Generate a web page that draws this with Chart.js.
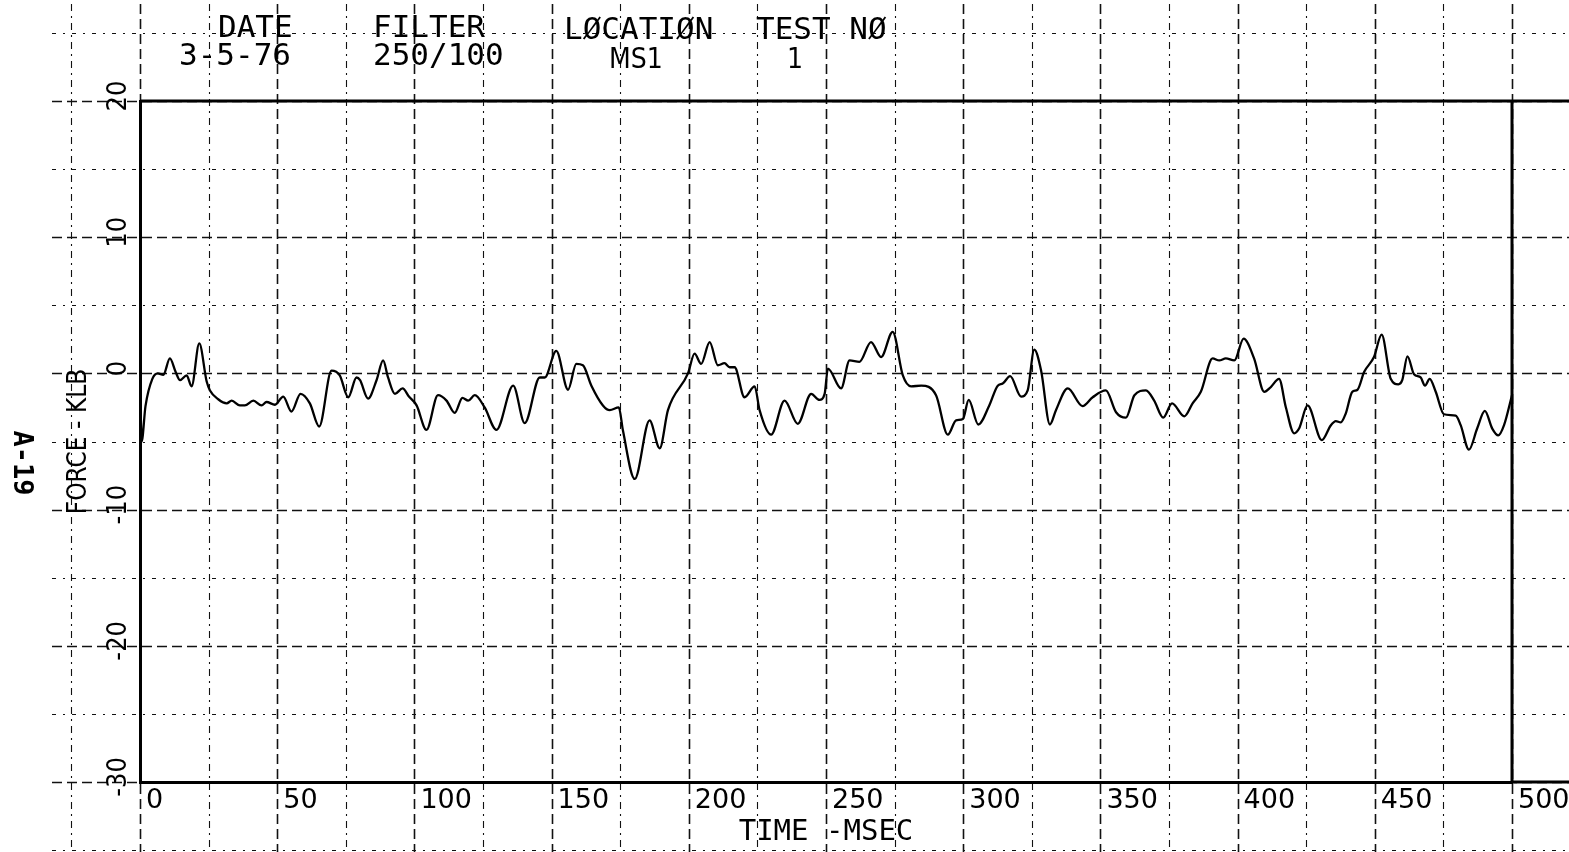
<!DOCTYPE html>
<html>
<head>
<meta charset="utf-8">
<title>Force - MS1 - Test 1</title>
<script src="https://cdn.jsdelivr.net/npm/chart.js@4.4.1/dist/chart.umd.min.js"></script>
<style>
  html, body { margin: 0; padding: 0; background: #fff; }
  #wrap { width: 1569px; height: 852px; position: relative; }
</style>
</head>
<body>
<div id="wrap"><canvas id="chart"></canvas></div>
<script>
  // time axis (msec) and measured force (KLB)
  var timeMs = [
    0, 0.6, 2, 4.5, 6.5, 8.5, 10.9, 13, 14.6, 17, 18.8, 21.6, 24.3, 25.5, 28.5,
    31.6, 33.4, 36.4, 38.2, 41.3, 44.3, 46.1, 49.2, 52.2, 55.2, 58.5, 61.9, 65.3,
    69.8, 72.8, 75.9, 78.9, 80.2, 83.1, 86.2, 88.6, 90.4, 92.9, 95.7, 98, 100.8,
    104.4, 108.6, 111.7, 114.7, 117.5, 119.6, 122, 125.6, 129.9, 136, 140.2,
    145.7, 147.5, 151.7, 156, 159, 161.4, 164.5, 168.7, 171.2, 174.5, 176, 180.3,
    185.7, 189.4, 192.4, 199.7, 202.1, 204.5, 207.6, 210.6, 213, 214.9, 216.7,
    220.3, 224, 225.8, 230, 234.9, 239.7, 244.6, 247.6, 249.5, 250.7, 255.5,
    258.6, 262.2, 266.4, 270.1, 274.3, 278, 281, 284.7, 290.1, 294.4, 297.4,
    299.9, 302, 305.5, 309.5, 312.6, 314.4, 317.1, 321.1, 323.5, 325.9, 328.4,
    331.6, 333.8, 338.1, 343.5, 347.2, 352, 355.7, 359.3, 362.4, 366.6, 369.6,
    372.9, 376.1, 380.6, 383.6, 386.6, 390.9, 393.3, 395.7, 398.8, 402.2, 406,
    409.7, 412.1, 415.1, 417.6, 420.6, 422.4, 425.5, 430.7, 434, 435.8, 437.6,
    439.4, 441.8, 443.7, 446.1, 449.7, 452.5, 455.8, 458.6, 460, 461.9, 464.3,
    466.7, 468.3, 470, 472.2, 475.2, 479.5, 481.3, 484.3, 487.3, 490.1, 492.8,
    495, 497.1, 500
  ];
  var forceKlb = [
    -0.2, -5.0, -2.4, -0.4, 0, -0.1, 1.1, 0.1, -0.5, -0.15, -0.95, 2.2, -0.6, -1.25, -1.9,
    -2.2, -2.0, -2.35, -2.35, -2.0, -2.35, -2.1, -2.3, -1.7, -2.8, -1.5, -2.2, -3.9,
    0.2, -0.15, -1.75, -0.3, -0.5, -1.85, -0.5, 0.95, -0.3, -1.5, -1.1, -1.7, -2.35,
    -4.15, -1.6, -2.0, -2.9, -1.8, -2.0, -1.6, -2.5, -4.15, -0.9, -3.65,
    -0.3, -0.3, 1.65, -1.2, 0.7, 0.6, -0.9, -2.35, -2.7, -2.5, -4.2, -7.75,
    -3.45, -5.5, -2.7, 0, 1.45, 0.7, 2.3, 0.6, 0.75, 0.45, 0.45,
    -1.75, -0.95, -2.7, -4.5, -2.0, -3.7, -1.5, -1.95, -1.5, 0.35, -1.1,
    0.95, 0.85, 2.3, 1.2, 3.05, -0.15, -0.95, -0.9, -1.6, -4.5, -3.45,
    -3.35, -1.95, -3.75, -2.35, -0.9, -0.75, -0.2, -1.7, -1.25, 1.75, 0.2,
    -3.75, -2.7, -1.1, -2.4, -1.75, -1.25, -2.85, -3.25, -1.6, -1.25, -2.0,
    -3.25, -2.2, -3.15, -2.2, -1.35, 1.1, 0.95, 1.1, 0.95, 2.55, 1.1,
    -1.35, -1.0, -0.4, -2.5, -4.4, -4.05, -2.35, -4.9, -3.8, -3.5, -3.6,
    -2.95, -1.35, -1.2, 0.1, 1.2, 2.85, -0.4, -0.8, -0.5, 1.25, -0.07,
    -0.3, -0.9, -0.4, -1.35, -3.0, -3.1, -3.8, -5.6, -4.05, -2.75, -4.05,
    -4.55, -3.8, -1.6
  ];
  var timeTicks = [0, 50, 100, 150, 200, 250, 300, 350, 400, 450, 500];
  var forceTicks = [-30, -20, -10, 0, 10, 20];

  var points = timeMs.map(function (t, i) { return { x: t, y: forceKlb[i] }; });

  var INK = '#111';

  // dashed graph-paper grid, running past the plot frame to the page edges
  var paperGrid = {
    id: 'paperGrid',
    beforeDraw: function (chart) {
      var c = chart.ctx, xs = chart.scales.x, ys = chart.scales.y;
      c.save();
      c.fillStyle = '#fff';
      c.fillRect(0, 0, chart.width, chart.height);
      c.strokeStyle = INK;
      for (var t = -25; t <= 525; t += 25) {
        var px = Math.round(xs.getPixelForValue(t)) + 0.5;
        var major = t % 50 === 0;
        c.lineWidth = major ? 1.6 : 1.1;
        c.setLineDash(major ? [10, 5] : [7, 5, 2, 5]);
        c.beginPath(); c.moveTo(px, 4); c.lineTo(px, chart.height); c.stroke();
      }
      for (var f = -35; f <= 25; f += 5) {
        var py = Math.round(ys.getPixelForValue(f)) + 0.5;
        var major2 = f % 10 === 0;
        c.lineWidth = major2 ? 1.5 : 1.1;
        c.setLineDash(major2 ? [10, 5] : [4, 7, 2, 7]);
        c.beginPath(); c.moveTo(52, py); c.lineTo(chart.width, py); c.stroke();
      }
      c.restore();
    }
  };

  // heavy plot frame; top and bottom edges run on to the right edge
  var plotFrame = {
    id: 'plotFrame',
    beforeDatasetsDraw: function (chart) {
      var c = chart.ctx, a = chart.chartArea;
      c.save();
      c.strokeStyle = '#000';
      c.lineWidth = 3;
      c.beginPath();
      c.moveTo(a.left, a.top); c.lineTo(chart.width, a.top);
      c.moveTo(a.right, a.top); c.lineTo(a.right, a.bottom);
      c.moveTo(a.right, a.bottom); c.lineTo(chart.width, a.bottom);
      c.stroke();
      c.restore();
    }
  };

  // header block and sheet number
  var sheetText = {
    id: 'sheetText',
    afterDraw: function (chart) {
      var c = chart.ctx;
      c.save();
      c.fillStyle = '#000';
      c.textAlign = 'left';
      c.textBaseline = 'alphabetic';
      c.font = '31px "DejaVu Sans Mono"';
      c.fillText('DATE', 218, 37);
      c.fillText('3-5-76', 179, 65);
      c.fillText('FILTER', 373, 37);
      c.fillText('250/100', 373, 65);
      c.fillText('LØCATIØN', 564, 39);
      c.fillText('TEST NØ', 756, 39);
      c.font = '28px "DejaVu Sans Condensed", "DejaVu Sans"';
      c.fillText('MS1', 609, 68);
      c.fillText('1', 787, 68);

      c.translate(21, 463);
      c.rotate(Math.PI / 2);
      c.textAlign = 'center';
      c.textBaseline = 'middle';
      c.font = 'bold 27px "DejaVu Sans Mono"';
      c.fillText('A-19', 0, 0);
      c.restore();
    }
  };

  var ctx = document.getElementById('chart');

  var chart = new Chart(ctx, {
    type: 'line',
    data: {
      datasets: [{
        data: points,
        borderColor: '#000',
        borderWidth: 2.3,
        pointRadius: 0,
        cubicInterpolationMode: 'monotone',
        fill: false
      }]
    },
    options: {
      responsive: true,
      maintainAspectRatio: false,
      animation: false,
      layout: { padding: { left: 0, right: 57, top: 101, bottom: 0 } },
      plugins: {
        legend: { display: false },
        tooltip: { enabled: false }
      },
      scales: {
        x: {
          type: 'linear',
          min: 0,
          max: 500,
          afterBuildTicks: function (s) { s.ticks = timeTicks.map(function (v) { return { value: v }; }); },
          afterFit: function (s) { s.height = 70; },
          grid: { display: false, drawTicks: false },
          border: { display: true, color: '#000', width: 3 },
          ticks: {
            align: 'start',
            labelOffset: 6,
            padding: 3,
            maxRotation: 0,
            autoSkip: false,
            color: '#000',
            font: { family: '"DejaVu Sans"', size: 27 }
          },
          title: {
            display: true,
            text: 'TIME -MSEC',
            color: '#000',
            font: { family: '"DejaVu Sans Mono"', size: 29 },
            padding: { top: 0, bottom: 2 }
          }
        },
        y: {
          type: 'linear',
          min: -30,
          max: 20,
          afterBuildTicks: function (s) { s.ticks = forceTicks.map(function (v) { return { value: v }; }); },
          afterFit: function (s) { s.width = 140; },
          grid: { display: false, drawTicks: false },
          border: { display: true, color: '#000', width: 3 },
          ticks: {
            minRotation: 90,
            maxRotation: 90,
            crossAlign: 'center',
            padding: 1,
            labelOffset: -5,
            color: '#000',
            font: { family: '"DejaVu Sans Condensed", "DejaVu Sans"', size: 27 }
          },
          title: {
            display: true,
            text: 'FORCE - KLB',
            color: '#000',
            font: { family: '"DejaVu Sans Condensed", "DejaVu Sans"', size: 26 },
            padding: { top: 64, bottom: 0 }
          }
        }
      }
    },
    plugins: [paperGrid, plotFrame, sheetText]
  });
</script>
</body>
</html>
